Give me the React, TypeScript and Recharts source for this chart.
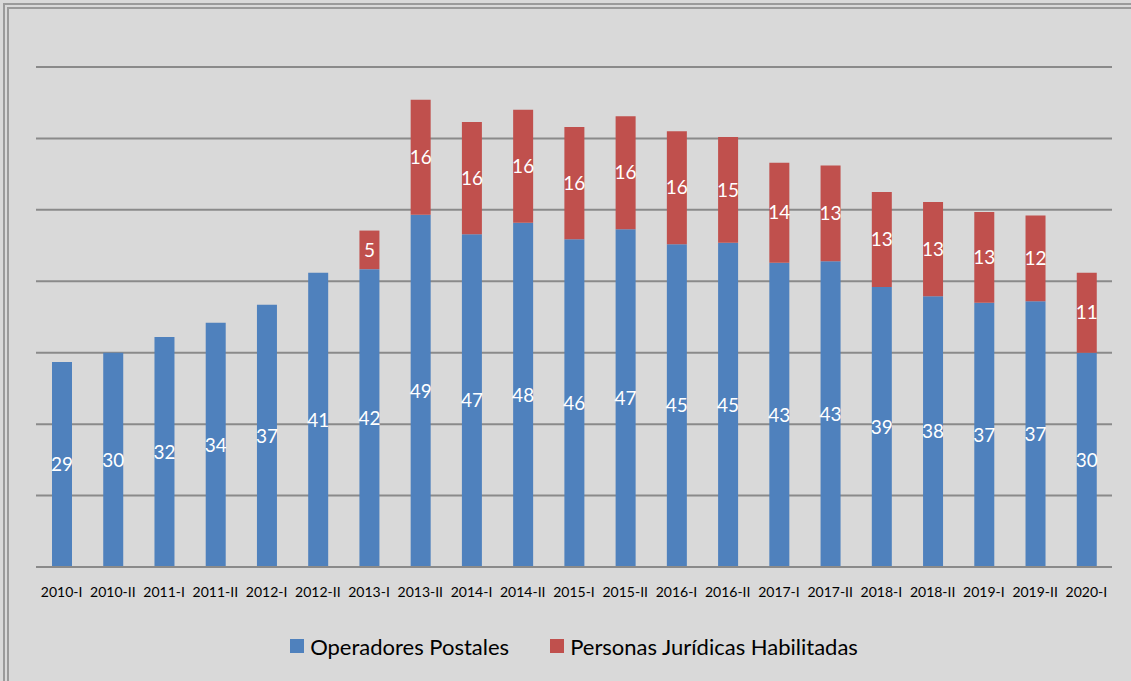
import { BarChart, Bar, XAxis, YAxis, CartesianGrid, Legend, LabelList } from "recharts";

const periods = [
  "2010-I", "2010-II", "2011-I", "2011-II", "2012-I", "2012-II", "2013-I",
  "2013-II", "2014-I", "2014-II", "2015-I", "2015-II", "2016-I", "2016-II",
  "2017-I", "2017-II", "2018-I", "2018-II", "2019-I", "2019-II", "2020-I",
];

const operadores = [
  28.7, 30.0, 32.2, 34.2, 36.7, 41.2, 41.7, 49.3, 46.6, 48.2, 45.9,
  47.3, 45.2, 45.4, 42.6, 42.8, 39.2, 37.9, 37.0, 37.2, 30.0,
];

const personas = [
  null, null, null, null, null, null, 5.4, 16.1, 15.7, 15.8, 15.7,
  15.8, 15.8, 14.8, 14.0, 13.4, 13.3, 13.2, 12.7, 12.0, 11.2,
];

const yTicks = [0, 10, 20, 30, 40, 50, 60, 70];

const BLUE = "#4f81bd";
const RED = "#c0504d";
const FONT = "Lato, 'Open Sans', sans-serif";

const data = periods.map((p, i) => ({
  period: p,
  operadores: operadores[i],
  personas: personas[i],
}));

const fmt = (v: any) => (v == null ? "" : String(Math.round(Number(v))));

interface LegendProps {
  payload?: Array<{ value: string; color: string }>;
}

const CustomLegend = ({ payload }: LegendProps) => (
  <div
    style={{
      display: "flex",
      justifyContent: "center",
      alignItems: "center",
      gap: 41,
      height: 40,
      fontFamily: FONT,
      fontSize: 22,
      color: "#000",
    }}
  >
    {payload?.map((entry, index) => (
      <div key={index} style={{ display: "flex", alignItems: "center", gap: 6 }}>
        <div style={{ width: 14, height: 14, background: entry.color }} />
        <span>{entry.value}</span>
      </div>
    ))}
  </div>
);

export default function App() {
  return (
    <div
      style={{
        position: "relative",
        width: 1131,
        height: 681,
        background: "#d9d9d9",
        overflow: "hidden",
      }}
    >
      <style>{"body{margin:0}"}</style>
      <div
        style={{
          position: "absolute",
          left: 3,
          top: 3,
          width: 1200,
          height: 800,
          border: "6px double #9a9a9a",
        }}
      />
      <div style={{ position: "absolute", left: 0, top: 0 }}>
        <BarChart
          width={1131}
          height={681}
          data={data}
          margin={{ top: 67, right: 19, left: 36, bottom: 15 }}
          barSize={20}
        >
          <CartesianGrid vertical={false} stroke="#8a8a8a" strokeWidth={2} />
          <XAxis
            dataKey="period"
            height={59}
            tickLine={false}
            tickSize={0}
            tickMargin={20}
            axisLine={{ stroke: "#8a8a8a", strokeWidth: 2 }}
            tick={{ fill: "#000", fontSize: 14, fontFamily: FONT }}
            interval={0}
          />
          <YAxis hide domain={[0, 70]} ticks={yTicks} />
          <Legend verticalAlign="bottom" height={40} content={<CustomLegend />} />
          <Bar
            dataKey="operadores"
            name="Operadores Postales"
            stackId="a"
            fill={BLUE}
            isAnimationActive={false}
          >
            <LabelList
              dataKey="operadores"
              position="center"
              formatter={fmt}
              style={{ fill: "#fff", fontSize: 19, fontFamily: FONT }}
            />
          </Bar>
          <Bar
            dataKey="personas"
            name="Personas Jurídicas Habilitadas"
            stackId="a"
            fill={RED}
            isAnimationActive={false}
          >
            <LabelList
              dataKey="personas"
              position="center"
              formatter={fmt}
              style={{ fill: "#fff", fontSize: 19, fontFamily: FONT }}
            />
          </Bar>
        </BarChart>
      </div>
    </div>
  );
}
